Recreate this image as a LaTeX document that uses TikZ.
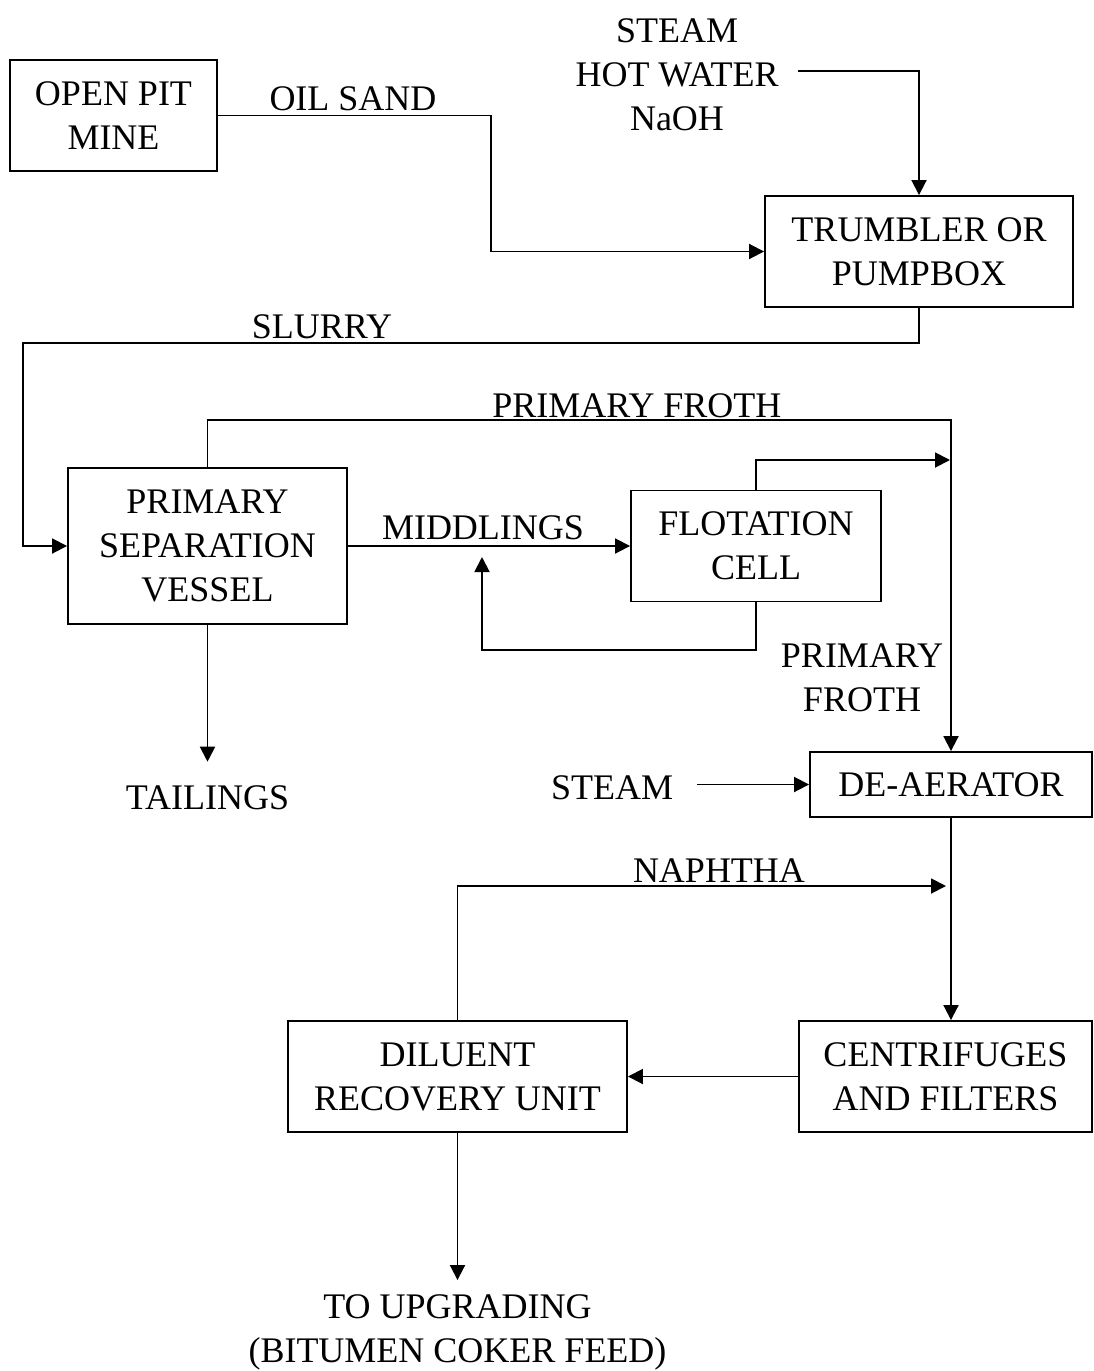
\documentclass[tikz,border=0pt]{standalone}
\usepackage{fontspec}
\setmainfont{Liberation Serif}
\usetikzlibrary{arrows.meta}
\begin{document}
\begin{tikzpicture}[x=1pt,y=-1pt,
  every node/.style={font=\fontsize{36}{44}\selectfont, align=center, inner sep=0pt},
  unit/.style={draw, line width=1.9pt},
  arr/.style={line width=1.9pt, -{Triangle[length=15pt,width=15pt]}}]
\useasboundingbox (0,0) rectangle (1093,1371);
% boxes
\node[unit, minimum width=207pt, minimum height=111pt] (mine) at (113.5,115.5) {OPEN PIT\\MINE};
\node[unit, minimum width=308pt, minimum height=111pt] (trum) at (919,251.5) {TRUMBLER OR\\PUMPBOX};
\node[unit, minimum width=279pt, minimum height=156pt] (psv) at (207.5,546) {PRIMARY\\SEPARATION\\VESSEL};
\node[unit, minimum width=250pt, minimum height=111pt] (fc) at (756,546) {FLOTATION\\CELL};
\node[unit, minimum width=282pt, minimum height=65pt] (dea) at (951,784.5) {DE-AERATOR};
\node[unit, minimum width=293pt, minimum height=111pt] (cf) at (945.5,1076.5) {CENTRIFUGES\\AND FILTERS};
\node[unit, minimum width=339pt, minimum height=111pt] (dru) at (457.5,1076.5) {DILUENT\\RECOVERY UNIT};
% labels
\node (oilsand) at (353,99) {OIL SAND};
\node (inp) at (677,75) {STEAM\\HOT WATER\\NaOH};
\node (slurry) at (322,327) {SLURRY};
\node (pf1) at (637,406) {PRIMARY FROTH};
\node (midd) at (483,528) {MIDDLINGS};
\node (pf2) at (862,678) {PRIMARY\\FROTH};
\node (tail) at (207.5,798) {TAILINGS};
\node (steam) at (612,788) {STEAM};
\node (naph) at (719,871) {NAPHTHA};
\node (up) at (457.5,1332) {TO UPGRADING\\(BITUMEN COKER FEED)};
% coordinates
\coordinate (c1) at (491,115.5);
\coordinate (c2) at (23,343);
\coordinate (c3) at (482,650);
\coordinate (c4) at (482,557);
% connectors
\draw[arr] (mine.east) -- (c1) |- (trum.west);
\draw[arr] ([xshift=19pt,yshift=4pt]inp.east) -| (trum.north);
\draw[arr] (trum.south) |- (c2) |- (psv.west);
\draw[arr] (psv.north) |- (dea.north |- 0,420) -- (dea.north);
\draw[arr] (fc.north) |- ([xshift=-1pt]dea.north |- 0,460);
\draw[arr] (psv.east) -- (fc.west);
\draw[arr] (fc.south) |- (c3) -- (c4);
\draw[arr] (psv.south) -- ([yshift=24pt]tail.north);
\draw[arr] ([xshift=24pt]steam.east |- dea.west) -- (dea.west);
\draw[arr] (dea.south) -- (dea.south |- cf.north);
\draw[arr] (dru.north) |- ([xshift=-5pt]dea.south |- 0,886);
\draw[arr] (cf.west) -- (dru.east);
\draw[arr] (dru.south) -- ([yshift=14pt]up.north);
\end{tikzpicture}
\end{document}
